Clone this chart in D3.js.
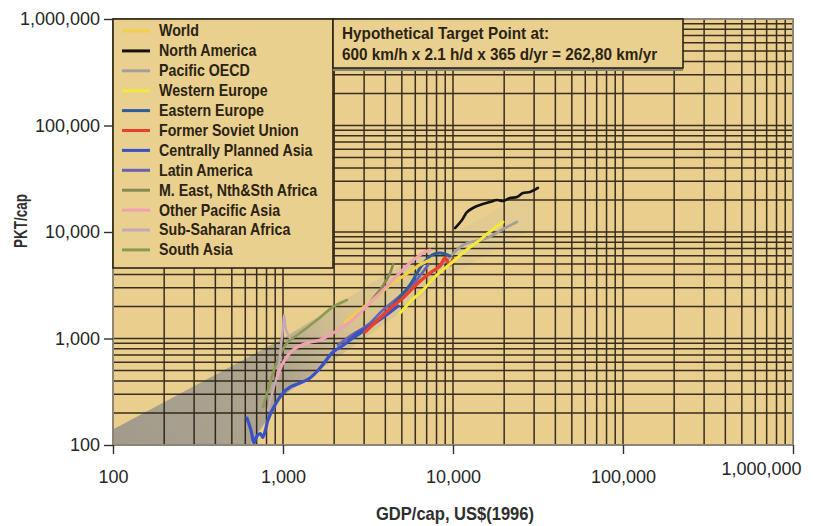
<!DOCTYPE html>
<html>
<head>
<meta charset="utf-8">
<script src="https://cdn.jsdelivr.net/npm/d3@7"></script>
<style>
  html, body { margin: 0; padding: 0; background: #ffffff; }
  svg { display: block; }
  text { font-family: 'Liberation Sans', Arial, sans-serif; }
</style>
</head>
<body>
<svg id="chart" width="813" height="526"></svg>
<script>
// Tick values shared by both log axes
const axisTicks = [100, 1000, 10000, 100000, 1000000];

// Legend entries, in legend order
const regions = [
  "World", "North America", "Pacific OECD", "Western Europe", "Eastern Europe",
  "Former Soviet Union", "Centrally Planned Asia", "Latin America",
  "M. East, Nth&Sth Africa", "Other Pacific Asia", "Sub-Saharan Africa", "South Asia"
];
const regionColors = [
  "#f2cf45", "#141210", "#a39e98", "#f2e93a", "#2f5c9c",
  "#e8402c", "#3a52c6", "#6a62b2", "#858a50", "#eea2b2", "#c2aab2", "#8d9a52"
];

// Trajectories: [GDP/cap US$(1996), PKT/cap]
const world = [[2320,1430],[2840,1850],[3480,2400],[4260,3180],[5230,3950],[6220,4800],[7330,5460]];
const northAmerica = [[10280,10900],[11300,12970],[12080,15400],[13100,16800],[14400,17900],[16500,19100],
  [18150,19950],[19700,19540],[21650,20850],[23800,21320],[25800,23250],[28400,23760],[31600,25900]];
const pacificOECD = [[4560,2300],[6400,3540],[8975,5230],[11460,7550],[15850,8790],[20230,10900],[23770,12420]];
const westernEurope = [[4875,1730],[5740,2300],[6665,2850],[8050,3950],[10280,5460],[12000,6800],
  [14400,8410],[15850,9600],[18150,11300],[19680,12420]];
const easternEurope = [[2480,970],[3035,1200],[3720,1560],[4560,2155],[5585,3180],[6580,4900],
  [7515,6080],[8390,6350],[9600,5950]];
const formerSovietUnion = [[3035,1150],[3720,1560],[4375,1980],[5225,2510],[6140,3250],[7330,4120],
  [8390,4800],[8975,5700],[9600,4900],[10000,5580],[10000,5460]];
const centrallyPlannedAsia = [[614,179],[650,135],[675,104],[700,120],[735,128],[760,118],[790,140],
  [816,172],[898,238],[1000,308],[1100,350],[1178,366],[1442,426],[1652,528],[1968,747],[2317,888],
  [2761,1127],[3340,1340],[3980,1626],[4745,2020]];
const latinAmerica = [[2110,870],[2545,1080],[3160,1340],[3875,1850],[4875,2510],[5970,3400],[7130,4900]];
const middleEast = [[3000,1900],[3400,2400],[3800,3000],[4200,3900],[4450,5000]];
const otherPacificAsia = [[922,426],[1000,590],[1146,780],[1384,907],[1652,968],[1968,1127],
  [2477,1430],[3250,2155],[4260,3320],[5585,5120],[6665,6350],[7330,6780]];
const subSaharanAfrica = [[816,213],[874,328],[935,484],[973,870],[1000,1255],[1014,1660],[1042,1200],[1099,1010]];
const southAsia = [[763,227],[816,328],[874,474],[960,700],[1056,907],[1259,1127],[1585,1490],[1968,1980],[2377,2300]];

// Corridor of historical growth, shaded behind the trajectories
const corridor = [[100,100],[100,140],[1000,1000],[3000,3000],[10000,9500],[30000,26000],
  [30000,11000],[10000,4000],[3000,1000],[1000,290],[640,100]];

// Text of the annotation box
const noteLines = ["Hypothetical Target Point at:", "600 km/h x 2.1 h/d x 365 d/yr = 262,80 km/yr"];

const seriesByRegion = [world, northAmerica, pacificOECD, westernEurope, easternEurope,
  formerSovietUnion, centrallyPlannedAsia, latinAmerica, middleEast, otherPacificAsia,
  subSaharanAfrica, southAsia];
// Draw order: back to front
const drawOrder = [2, 8, 11, 10, 7, 4, 0, 9, 6, 5, 3, 1];
const strokeWidths = [3, 2.6, 2.6, 3, 3, 3.4, 3.2, 2.8, 2.6, 3, 2.4, 2.6];

const svg = d3.select("#chart");
const plotLeft = 113, plotRight = 793, plotTop = 19, plotBottom = 445;

const x = d3.scaleLog().domain([100, 1000000]).range([plotLeft, plotRight]);
const y = d3.scaleLog().domain([100, 1000000]).range([plotBottom, plotTop]);

// Plot background
svg.append("rect").attr("x", plotLeft).attr("y", plotTop)
  .attr("width", plotRight - plotLeft).attr("height", plotBottom - plotTop)
  .attr("fill", "#e9ce8d");

// Corridor with a fading grey fill
const defs = svg.append("defs");
const grad = defs.append("linearGradient").attr("id", "corridorFade")
  .attr("gradientUnits", "userSpaceOnUse")
  .attr("x1", plotLeft).attr("y1", plotBottom).attr("x2", 540).attr("y2", 190);
grad.append("stop").attr("offset", 0).attr("stop-color", "#9d988c").attr("stop-opacity", 0.95);
grad.append("stop").attr("offset", 0.38).attr("stop-color", "#a39d8f").attr("stop-opacity", 0.8);
grad.append("stop").attr("offset", 0.55).attr("stop-color", "#b5ad98").attr("stop-opacity", 0.3);
grad.append("stop").attr("offset", 1).attr("stop-color", "#c8c0a6").attr("stop-opacity", 0.15);

svg.append("path")
  .attr("d", d3.line().x(d => x(d[0])).y(d => y(d[1]))(corridor) + "Z")
  .attr("fill", "url(#corridorFade)");

// Log grid: 1..9 within every decade
const gridValues = [];
for (let d = 100; d < 1000000; d *= 10) {
  for (let k = 1; k <= 9; k++) gridValues.push(k * d);
}
gridValues.push(1000000);

const grid = svg.append("g").attr("stroke", "#241d12").attr("stroke-width", 1.5).attr("opacity", 0.9);
grid.selectAll(".gx").data(gridValues).join("line").attr("class", "gx")
  .attr("x1", d => x(d)).attr("x2", d => x(d)).attr("y1", plotTop).attr("y2", plotBottom);
grid.selectAll(".gy").data(gridValues).join("line").attr("class", "gy")
  .attr("y1", d => y(d)).attr("y2", d => y(d)).attr("x1", plotLeft).attr("x2", plotRight);

// Trajectories
const line = d3.line().x(d => x(d[0])).y(d => y(d[1])).curve(d3.curveCatmullRom.alpha(0.5));
svg.append("g").selectAll("path").data(drawOrder).join("path")
  .attr("d", i => line(seriesByRegion[i]))
  .attr("fill", "none")
  .attr("stroke", i => regionColors[i])
  .attr("stroke-width", i => strokeWidths[i])
  .attr("stroke-linejoin", "round")
  .attr("stroke-linecap", "round");

// Plot frame
svg.append("rect").attr("x", plotLeft).attr("y", plotTop)
  .attr("width", plotRight - plotLeft).attr("height", plotBottom - plotTop)
  .attr("fill", "none").attr("stroke", "#8c8677").attr("stroke-width", 2);

// Legend box
const legend = svg.append("g");
legend.append("rect").attr("x", plotLeft).attr("y", plotTop).attr("width", 220).attr("height", 249)
  .attr("fill", "#ead08f").attr("stroke", "#2a2316").attr("stroke-width", 1.6);
const rowY = i => 31 + i * 19.9;
legend.selectAll("line").data(regions).join("line")
  .attr("x1", 122).attr("x2", 150)
  .attr("y1", (d, i) => rowY(i)).attr("y2", (d, i) => rowY(i))
  .attr("stroke", (d, i) => regionColors[i]).attr("stroke-width", 3);
// condensed bold labels
legend.append("g").attr("transform", "translate(159,0) scale(0.9,1)")
  .selectAll("text").data(regions).join("text")
  .attr("x", 0).attr("y", (d, i) => rowY(i) + 5.5)
  .attr("font-size", 15.8).attr("font-weight", "bold").attr("fill", "#2b2312")
  .text(d => d);

// Annotation box
const note = svg.append("g");
note.append("rect").attr("x", 333).attr("y", 68).attr("width", 350).attr("height", 3)
  .attr("fill", "#8a8678");
note.append("rect").attr("x", 333).attr("y", plotTop).attr("width", 350).attr("height", 49)
  .attr("fill", "#ead08f").attr("stroke", "#2a2316").attr("stroke-width", 1.6);
note.append("g").attr("transform", "translate(342,0) scale(0.94,1)")
  .selectAll("text").data(noteLines).join("text")
  .attr("x", 0).attr("y", (d, i) => 39 + i * 21)
  .attr("font-size", 16.3).attr("font-weight", "bold").attr("fill", "#2b2312")
  .text(d => d);

// Axes
const fmt = d3.format(",");
const xAxis = svg.append("g").attr("transform", `translate(0,${plotBottom})`)
  .call(d3.axisBottom(x).tickValues(axisTicks).tickFormat(fmt).tickSize(9).tickPadding(16));
const yAxis = svg.append("g").attr("transform", `translate(${plotLeft},0)`)
  .call(d3.axisLeft(y).tickValues(axisTicks).tickFormat(fmt).tickSize(9).tickPadding(4));
[xAxis, yAxis].forEach(a => {
  a.select(".domain").remove();
  a.selectAll(".tick line").attr("stroke", "#2e2e2e").attr("stroke-width", 1.4);
  a.selectAll(".tick text").attr("font-family", "'Liberation Sans', Arial, sans-serif")
    .attr("font-size", 18).attr("fill", "#262626");
});
xAxis.selectAll(".tick text").filter(d => d === 1000000)
  .attr("text-anchor", "end").attr("x", 8).attr("dy", "0.3em");

// Axis titles
svg.append("text")
  .attr("transform", "translate(27,221) rotate(-90)")
  .attr("text-anchor", "middle").attr("font-size", 19).attr("font-weight", "bold")
  .attr("textLength", 54).attr("lengthAdjust", "spacingAndGlyphs")
  .attr("fill", "#2e2e2e").text("PKT/cap");
svg.append("text")
  .attr("x", 455).attr("y", 520)
  .attr("text-anchor", "middle").attr("font-size", 19).attr("font-weight", "bold")
  .attr("textLength", 158).attr("lengthAdjust", "spacingAndGlyphs")
  .attr("fill", "#2e2e2e").text("GDP/cap, US$(1996)");
</script>
</body>
</html>
